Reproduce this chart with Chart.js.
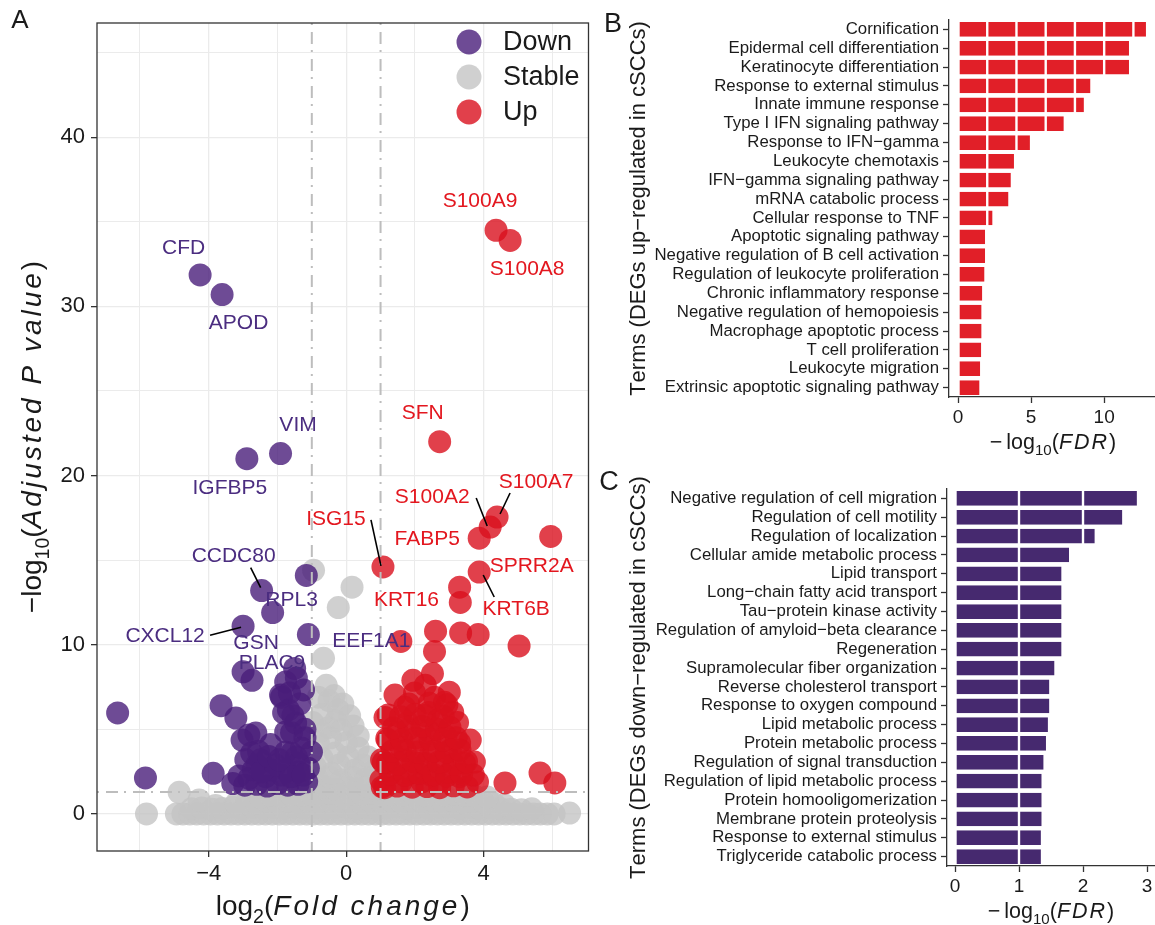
<!DOCTYPE html>
<html>
<head>
<meta charset="utf-8">
<title>Differential expression and GO enrichment in cSCCs</title>
<script src="https://cdn.jsdelivr.net/npm/chart.js@4.4.1/dist/chart.umd.min.js"></script>
<style>
  html, body { margin: 0; padding: 0; background: #fff; overflow: hidden; width: 1155px; height: 925px; }
  canvas { position: absolute; }
  #volcano { left: 0; top: 0; }
  #upTerms { left: 600px; top: 0; }
  #downTerms { left: 600px; top: 460px; }
</style>
</head>
<body>
<canvas id="volcano" width="600" height="925"></canvas>
<canvas id="upTerms" width="560" height="460"></canvas>
<canvas id="downTerms" width="560" height="465"></canvas>
<script>
// ---------------- Volcano data: [log2 fold change, -log10 adjusted P] ----------------
const downLabelled = [
  ['CFD', -4.25, 31.86], ['APOD', -3.61, 30.7], ['VIM', -1.91, 21.3], ['IGFBP5', -2.89, 21.0],
  ['CCDC80', -2.46, 13.2], ['RPL3', -2.14, 11.9], ['CXCL12', -3.0, 11.1], ['GSN', -3.0, 8.4],
  ['PLAC9', -2.74, 7.9], ['EEF1A1', -1.1, 10.6]
];
const upLabelled = [
  ['S100A9', 4.36, 34.5], ['S100A8', 4.77, 33.9], ['SFN', 2.72, 22.0], ['S100A7', 4.39, 17.55],
  ['S100A2', 4.19, 16.96], ['FABP5', 3.87, 16.3], ['SPRR2A', 5.95, 16.4], ['ISG15', 1.07, 14.6],
  ['KRT6B', 3.87, 14.3], ['KRT16', 2.6, 10.8]
];
const downPoints = [
  [-1.16, 14.1], [-6.65, 5.97], [-5.84, 2.13], [-3.87, 2.4], [-3.64, 6.4], [-3.21, 5.67],
  [-2.83, 4.67], [-2.63, 4.79], [-3.03, 4.37], [-2.75, 3.6], [-2.49, 3.2], [-2.92, 3.2],
  [-3.12, 2.25], [-2.83, 2.1], [-2.17, 2.6], [-2.34, 2.2], [-1.88, 2.3], [-1.76, 3.66],
  [-1.76, 4.85], [-1.82, 5.97], [-1.91, 7.03], [-1.47, 5.38], [-1.45, 3.37], [-1.39, 2.48],
  [-1.68, 6.15], [-1.59, 4.8], [-1.59, 3.6], [-1.76, 2.6], [-1.01, 3.66], [-1.1, 2.7],
  [-1.39, 3.0], [-1.88, 6.9], [-1.76, 7.8], [-1.45, 8.04], [-1.24, 7.33], [-1.65, 7.15],
  [-1.5, 8.6], [-2.6, 2.9], [-2.2, 4.1], [-1.2, 4.5],
  [-3.3, 1.8], [-2.95, 1.7], [-2.6, 1.75], [-2.3, 1.65], [-2.0, 1.8], [-1.7, 1.7],
  [-1.4, 1.75], [-1.15, 1.9], [-2.7, 2.6], [-2.45, 2.5], [-2.05, 2.9], [-1.6, 2.2],
  [-1.25, 2.3], [-2.55, 3.7], [-2.25, 3.4], [-1.95, 3.2], [-1.3, 3.9], [-1.2, 5.0],
  [-1.55, 5.8], [-1.35, 6.5]
];
const upPoints = [
  [3.3, 13.4], [3.32, 12.5], [5.03, 9.93], [3.33, 10.7], [3.84, 10.6], [1.59, 10.2],
  [2.57, 9.6], [2.51, 8.3], [1.94, 7.9], [1.42, 7.03], [1.99, 7.15], [2.57, 6.9],
  [2.86, 6.6], [1.13, 5.7], [1.79, 5.4], [2.66, 5.55], [3.24, 5.4], [3.61, 4.37],
  [1.21, 4.37], [1.03, 3.2], [1.59, 3.96], [2.17, 4.37], [2.46, 3.6], [3.03, 3.78],
  [3.73, 3.07], [1.3, 2.6], [1.88, 2.42], [2.46, 2.3], [3.03, 2.48], [3.82, 1.89],
  [4.62, 1.83], [5.64, 2.42], [6.07, 1.83], [1.01, 2.0], [3.44, 3.0], [2.0, 5.9],
  [2.4, 4.9], [1.5, 4.8], [2.9, 4.6], [3.3, 4.2], [1.7, 3.2], [2.1, 3.0], [2.8, 3.1],
  [1.2, 3.0], [3.3, 2.2], [2.2, 1.9], [1.6, 1.9], [2.7, 1.9], [1.05, 1.6], [3.0, 7.2],
  [2.3, 7.6], [1.7, 6.3], [2.4, 6.0], [3.1, 6.0],
  [1.12, 1.55], [1.48, 1.65], [1.92, 1.58], [2.35, 1.62], [2.72, 1.55], [3.12, 1.66], [3.52, 1.6],
  [1.28, 2.35], [1.71, 2.28], [2.12, 2.4], [2.55, 2.32], [2.92, 2.25], [3.36, 2.38], [3.7, 2.3],
  [1.08, 3.05], [1.52, 2.95], [1.94, 3.1], [2.31, 2.98], [2.68, 3.05], [3.14, 2.95], [3.5, 3.1],
  [1.33, 3.7], [1.72, 3.75], [2.08, 3.66], [2.55, 3.72], [2.92, 3.65], [3.31, 3.78],
  [1.18, 4.45], [1.62, 4.38], [2.02, 4.5], [2.44, 4.42], [2.83, 4.35], [3.2, 4.5],
  [1.38, 5.1], [1.83, 5.05], [2.21, 5.18], [2.63, 5.02], [3.02, 5.12],
  [1.22, 5.85], [1.58, 5.75], [2.28, 5.82], [2.82, 5.78], [1.82, 6.5], [2.42, 6.55], [2.93, 6.45]
];
const stablePoints = [
  [-5.81, 0], [-4.94, 0], [-4.75, 0], [-4.55, 0], [-4.35, 0], [-4.15, 0], [-3.95, 0],
  [-3.75, 0], [-3.55, 0], [-3.35, 0], [-3.15, 0], [-2.95, 0], [-2.75, 0], [-2.55, 0],
  [-2.35, 0], [-2.15, 0], [-1.95, 0], [-1.75, 0], [-1.55, 0], [-1.35, 0], [-1.15, 0],
  [-0.95, 0], [-0.75, 0], [-0.55, 0], [-0.35, 0], [-0.15, 0], [0.05, 0], [0.25, 0],
  [0.45, 0], [0.65, 0], [0.85, 0], [1.05, 0], [1.25, 0], [1.45, 0], [1.65, 0], [1.85, 0],
  [2.05, 0], [2.25, 0], [2.45, 0], [2.65, 0], [2.85, 0], [3.05, 0], [3.25, 0], [3.45, 0],
  [3.65, 0], [3.85, 0], [4.05, 0], [4.25, 0], [4.45, 0], [4.65, 0], [4.85, 0], [5.05, 0],
  [5.25, 0], [5.45, 0], [5.65, 0], [5.85, 0], [6.05, 0], [6.5, 0.05],
  [-4.5, 0.3], [-4.2, 0.35], [-3.9, 0.28], [-3.6, 0.32], [-3.3, 0.4], [-3.0, 0.3], [-2.7, 0.36],
  [-2.4, 0.3], [-2.1, 0.38], [-1.8, 0.32], [-1.5, 0.4], [-1.2, 0.34], [-0.9, 0.38], [-0.6, 0.3],
  [-0.3, 0.36], [0.0, 0.4], [0.3, 0.32], [0.6, 0.38], [0.9, 0.3], [1.2, 0.36], [1.5, 0.4],
  [1.8, 0.32], [2.1, 0.38], [2.4, 0.3], [2.7, 0.36], [3.0, 0.4], [3.3, 0.32], [3.6, 0.38],
  [3.9, 0.3], [4.2, 0.35], [4.5, 0.3], [4.8, 0.28], [5.1, 0.25], [5.4, 0.3],
  [-4.28, 0.83], [-3.8, 0.5], [-3.2, 0.62], [-2.9, 0.7], [-2.6, 0.66], [-2.3, 0.75], [-2.0, 0.7],
  [-1.7, 0.78], [-1.4, 0.72], [-1.1, 0.8], [-0.8, 0.74], [-0.5, 0.8], [-0.2, 0.76], [0.1, 0.82],
  [0.4, 0.74], [0.7, 0.8], [1.0, 0.76], [1.3, 0.82], [1.6, 0.74], [1.9, 0.8], [2.2, 0.76],
  [2.5, 0.82], [2.8, 0.74], [3.1, 0.8], [3.4, 0.72], [3.7, 0.76], [4.0, 0.68], [4.3, 0.62], [4.6, 0.55],
  [-4.86, 1.28], [-2.5, 1.0], [-2.2, 1.1], [-1.9, 1.05], [-1.6, 1.15], [-1.3, 1.1], [-1.05, 1.2],
  [-0.75, 1.15], [-0.45, 1.22], [-0.15, 1.12], [0.15, 1.2], [0.45, 1.15], [0.75, 1.22],
  [1.05, 1.12], [1.35, 1.2], [1.65, 1.1], [1.95, 1.18], [2.25, 1.12], [2.55, 1.2], [2.85, 1.1],
  [3.15, 1.16], [3.45, 1.1], [3.75, 1.05], [4.1, 1.0],
  [-0.9, 1.5], [-0.6, 1.6], [-0.3, 1.45], [0.0, 1.6], [0.3, 1.5], [0.6, 1.65], [0.9, 1.45],
  [-0.85, 2.1], [-0.5, 2.2], [-0.15, 2.0], [0.2, 2.15], [0.55, 2.05], [0.85, 2.3],
  [-0.9, 2.8], [-0.43, 2.4], [0.26, 2.6], [0.84, 2.6], [-0.2, 2.9], [0.5, 2.9],
  [-0.32, 3.6], [0.06, 3.37], [0.64, 3.37], [-0.7, 3.3], [0.35, 3.9], [-0.81, 4.2],
  [-0.14, 4.96], [-0.52, 5.1], [-0.97, 5.4], [0.35, 4.6], [-0.45, 4.5], [0.0, 4.2],
  [-0.3, 5.5], [0.2, 5.2], [-0.75, 4.9], [0.1, 5.8], [-0.7, 5.9], [-0.23, 6.15],
  [-0.5, 6.7], [-0.1, 6.5], [-0.81, 6.9], [-0.35, 7.0], [-0.58, 7.6], [-0.66, 9.2],
  [-0.23, 12.2], [0.17, 13.4], [-0.95, 14.4]
];
const volcanoXGrid = [-6, -4, -2, 0, 2, 4, 6];
const volcanoXTicks = [-4, 0, 4];
const volcanoYGrid = [0, 5, 10, 15, 20, 25, 30, 35, 40, 45];
const volcanoYTicks = [0, 10, 20, 30, 40];
const FC_CUTOFF = 1;
const P_CUTOFF = 1.3;

// ---------------- GO term enrichment: -log10(FDR) ----------------
const upTerms = [
  'Cornification', 'Epidermal cell differentiation', 'Keratinocyte differentiation',
  'Response to external stimulus', 'Innate immune response', 'Type I IFN signaling pathway',
  'Response to IFN\u2212gamma', 'Leukocyte chemotaxis', 'IFN\u2212gamma signaling pathway',
  'mRNA catabolic process', 'Cellular response to TNF', 'Apoptotic signaling pathway',
  'Negative regulation of B cell activation', 'Regulation of leukocyte proliferation',
  'Chronic inflammatory response', 'Negative regulation of hemopoiesis',
  'Macrophage apoptotic process', 'T cell proliferation', 'Leukocyte migration',
  'Extrinsic apoptotic signaling pathway'
];
const upFDR = [12.94, 11.78, 11.78, 9.13, 8.69, 7.31, 5.0, 3.91, 3.69, 3.52, 2.43,
  1.93, 1.93, 1.88, 1.73, 1.68, 1.68, 1.66, 1.59, 1.54];
const downTerms = [
  'Negative regulation of cell migration', 'Regulation of cell motility', 'Regulation of localization',
  'Cellular amide metabolic process', 'Lipid transport', 'Long\u2212chain fatty acid transport',
  'Tau\u2212protein kinase activity', 'Regulation of amyloid\u2212beta clearance', 'Regeneration',
  'Supramolecular fiber organization', 'Reverse cholesterol transport', 'Response to oxygen compound',
  'Lipid metabolic process', 'Protein metabolic process', 'Regulation of signal transduction',
  'Regulation of lipid metabolic process', 'Protein homooligomerization', 'Membrane protein proteolysis',
  'Response to external stimulus', 'Triglyceride catabolic process'
];
const downFDR = [2.86, 2.63, 2.20, 1.80, 1.68, 1.68, 1.68, 1.68, 1.68, 1.57, 1.49, 1.49,
  1.47, 1.44, 1.40, 1.37, 1.37, 1.37, 1.36, 1.36];
const upTicks = [0, 5, 10];
const downTicks = [0, 1, 2, 3];

// ---------------- styling ----------------
const FAMILY = '"Liberation Sans", Arial, Helvetica, sans-serif';
const INK = '#1a1a1a';
const DOWN_FILL = 'rgba(74, 30, 122, 0.8)';
const UP_FILL = 'rgba(218, 16, 30, 0.8)';
const STABLE_FILL = 'rgba(196, 196, 196, 0.8)';
const DOWN_TEXT = '#4B2D80';
const UP_TEXT = '#E3171F';
const UP_BAR = '#E11F28';
const DOWN_BAR = '#46296F';

const toXY = pts => pts.map(([x, y]) => ({ x, y }));
const signed = v => (v < 0 ? '\u2212' + Math.abs(v) : String(v));

// text placement around labelled genes: [dx, dy] of the text centre from the point,
// optional leader segment [x1, y1, x2, y2] also relative to the point
const labelLayout = {
  S100A9: { t: [-16, -29] }, S100A8: { t: [17, 29] }, CFD: { t: [-16.5, -27] },
  APOD: { t: [16.5, 29] }, VIM: { t: [17.5, -28] }, IGFBP5: { t: [-17, 30] },
  SFN: { t: [-17, -29] },
  S100A7: { t: [39, -35], l: [13, -24, 3, -3] },
  S100A2: { t: [-58, -30], l: [-14, -29, -3, -1] },
  FABP5: { t: [-52, 1] },
  ISG15: { t: [-47, -48], l: [-12, -47, -2, -1] },
  SPRR2A: { t: [-19, 30] },
  KRT6B: { t: [37, 37], l: [4, 3, 15, 25] },
  KRT16: { t: [-29, -31] },
  CCDC80: { t: [-28, -34], l: [-11, -23, -1, -3] },
  RPL3: { t: [19, -12] },
  CXCL12: { t: [-78, 10], l: [-33, 9, -2, 1] },
  GSN: { t: [13, -29] }, PLAC9: { t: [20, -17] }, EEF1A1: { t: [63, 7] }
};

// draws a run of plain / italic / subscript pieces centred on (cx, cy)
function drawRich(ctx, parts, cx, cy, size, rotate) {
  ctx.save();
  ctx.translate(cx, cy);
  if (rotate) ctx.rotate(-Math.PI / 2);
  ctx.fillStyle = INK;
  ctx.textAlign = 'left';
  ctx.textBaseline = 'alphabetic';
  const runs = parts.map(([text, kind, gap]) => {
    const sz = kind === 'sub' ? size * 0.7 : size;
    const font = (kind === 'it' ? 'italic ' : '') + sz + 'px ' + FAMILY;
    ctx.font = font;
    const sp = gap || 0;
    let w = 0;
    for (const ch of text) w += ctx.measureText(ch).width + sp;
    return { text, font, sp, w, dy: kind === 'sub' ? size * 0.28 : 0 };
  });
  const total = runs.reduce((a, r) => a + r.w, 0);
  let x = -total / 2;
  const base = size * 0.36;
  for (const r of runs) {
    ctx.font = r.font;
    for (const ch of r.text) {
      ctx.fillText(ch, x, base + r.dy);
      x += ctx.measureText(ch).width + r.sp;
    }
  }
  ctx.restore();
}

// ---------------- Panel A: volcano plot ----------------
const volcanoDecor = {
  id: 'volcanoDecor',
  afterDatasetsDraw(chart) {
    const { ctx, chartArea: a, scales: { x, y } } = chart;
    ctx.save();
    // significance thresholds
    ctx.strokeStyle = '#BDBDBD';
    ctx.lineWidth = 2;
    ctx.setLineDash([2, 7, 12, 6]);
    for (const v of [-FC_CUTOFF, FC_CUTOFF]) {
      const px = x.getPixelForValue(v);
      ctx.beginPath(); ctx.moveTo(px, a.top); ctx.lineTo(px, a.bottom); ctx.stroke();
    }
    const py = y.getPixelForValue(P_CUTOFF);
    ctx.beginPath(); ctx.moveTo(a.left, py); ctx.lineTo(a.right, py); ctx.stroke();
    ctx.setLineDash([]);
    // gene labels
    ctx.font = '21px ' + FAMILY;
    ctx.textAlign = 'center';
    ctx.textBaseline = 'middle';
    const put = (list, color) => {
      for (const [name, fc, p] of list) {
        const lay = labelLayout[name];
        const px0 = x.getPixelForValue(fc), py0 = y.getPixelForValue(p);
        if (lay.l) {
          ctx.strokeStyle = '#000'; ctx.lineWidth = 1.6;
          ctx.beginPath();
          ctx.moveTo(px0 + lay.l[0], py0 + lay.l[1]);
          ctx.lineTo(px0 + lay.l[2], py0 + lay.l[3]);
          ctx.stroke();
        }
        ctx.fillStyle = color;
        ctx.fillText(name, px0 + lay.t[0], py0 + lay.t[1]);
      }
    };
    put(downLabelled, DOWN_TEXT);
    put(upLabelled, UP_TEXT);
    ctx.restore();
  },
  afterDraw(chart) {
    const { ctx, chartArea: a } = chart;
    ctx.save();
    ctx.strokeStyle = '#333';
    ctx.lineWidth = 1.3;
    ctx.strokeRect(a.left, a.top, a.right - a.left, a.bottom - a.top);
    // legend
    const legend = [['Down', DOWN_FILL], ['Stable', STABLE_FILL], ['Up', UP_FILL]];
    ctx.font = '27px ' + FAMILY;
    ctx.textAlign = 'left';
    ctx.textBaseline = 'middle';
    legend.forEach(([name, col], i) => {
      const cy = 42 + i * 35;
      ctx.fillStyle = col;
      ctx.beginPath(); ctx.arc(469, cy, 12.5, 0, Math.PI * 2); ctx.fill();
      ctx.fillStyle = INK;
      ctx.fillText(name, 503, cy + 1);
    });
    // panel tag
    ctx.font = '26px ' + FAMILY;
    ctx.textAlign = 'center';
    ctx.fillText('A', 20, 21);
    ctx.restore();
    drawRich(ctx, [['log', 'n'], ['2', 'sub'], ['(', 'n'], ['Fold change', 'it', 3], [')', 'n']],
      (a.left + a.right) / 2, 905, 28, false);
    drawRich(ctx, [['\u2212log', 'n'], ['10', 'sub'], ['(', 'n'], ['Adjusted P value', 'it', 3], [')', 'n']],
      31, (a.top + a.bottom) / 2, 28, true);
  }
};

new Chart(document.getElementById('volcano'), {
  type: 'scatter',
  data: {
    datasets: [
      { label: 'Down', data: toXY(downPoints.concat(downLabelled.map(g => [g[1], g[2]]))), backgroundColor: DOWN_FILL, order: 0 },
      { label: 'Up', data: toXY(upPoints.concat(upLabelled.map(g => [g[1], g[2]]))), backgroundColor: UP_FILL, order: 1 },
      { label: 'Stable', data: toXY(stablePoints), backgroundColor: STABLE_FILL, order: 2 }
    ]
  },
  options: {
    responsive: false,
    animation: false,
    layout: { padding: { top: 23, right: 8, left: 0, bottom: 0 } },
    elements: { point: { radius: 11.5, hoverRadius: 11.5, borderWidth: 0 } },
    plugins: { legend: { display: false }, tooltip: { enabled: false } },
    scales: {
      x: {
        type: 'linear', min: -7.25, max: 7.05,
        afterBuildTicks: s => { s.ticks = volcanoXGrid.map(v => ({ value: v })); },
        afterFit: s => { s.height = 74; },
        border: { display: false },
        grid: {
          color: '#EBEBEB',
          lineWidth: c => (volcanoXTicks.includes(c.tick && c.tick.value) ? 1.3 : 1),
          tickLength: 6, tickWidth: 1.3,
          tickColor: c => (volcanoXTicks.includes(c.tick && c.tick.value) ? '#333' : 'rgba(0,0,0,0)')
        },
        ticks: {
          autoSkip: false, maxRotation: 0, padding: 4, color: INK,
          font: { family: FAMILY, size: 22 },
          callback: v => (volcanoXTicks.includes(v) ? signed(v) : '')
        }
      },
      y: {
        type: 'linear', min: -2.19, max: 46.75,
        afterBuildTicks: s => { s.ticks = volcanoYGrid.map(v => ({ value: v })); },
        afterFit: s => { s.width = 97; },
        border: { display: false },
        grid: {
          color: '#EBEBEB',
          lineWidth: c => (volcanoYTicks.includes(c.tick && c.tick.value) ? 1.3 : 1),
          tickLength: 6, tickWidth: 1.3,
          tickColor: c => (volcanoYTicks.includes(c.tick && c.tick.value) ? '#333' : 'rgba(0,0,0,0)')
        },
        ticks: {
          autoSkip: false, padding: 6, color: INK,
          font: { family: FAMILY, size: 22 },
          callback: v => (volcanoYTicks.includes(v) ? signed(v) : '')
        }
      }
    }
  },
  plugins: [volcanoDecor]
});

// ---------------- Panels B and C: enrichment bars ----------------
// each bar is split into equal-width stacked pieces separated by thin white rules
function pieces(values, step) {
  const n = Math.ceil(Math.max(...values) / step);
  const out = [];
  for (let k = 0; k < n; k++) out.push(values.map(v => Math.max(0, Math.min(step, v - k * step))));
  return out;
}

function termChart(id, terms, values, step, color, ticks, range, geom, tag, yTitle) {
  const decor = {
    id: 'decor' + tag,
    afterDraw(chart) {
      const { ctx, chartArea: a } = chart;
      ctx.save();
      ctx.fillStyle = INK;
      ctx.font = '27px ' + FAMILY;
      ctx.textAlign = 'center';
      ctx.textBaseline = 'middle';
      ctx.fillText(tag, geom.tagX, geom.tagY);
      ctx.restore();
      drawRich(ctx, [['\u2212', 'n', 4], ['log', 'n'], ['10', 'sub'], ['(', 'n'], ['FDR', 'it', 2], [')', 'n']],
        geom.xTitleX, geom.xTitleY, 21.5, false);
      drawRich(ctx, [[yTitle, 'n']], 37, (a.top + a.bottom) / 2, 22, true);
    }
  };
  new Chart(document.getElementById(id), {
    type: 'bar',
    data: {
      labels: terms,
      datasets: pieces(values, step).map(d => ({
        data: d,
        backgroundColor: color,
        borderColor: '#ffffff',
        borderWidth: { left: 1.2, right: 1.2, top: 0, bottom: 0 },
        borderSkipped: false,
        barPercentage: 0.78,
        categoryPercentage: 1
      }))
    },
    options: {
      indexAxis: 'y',
      responsive: false,
      animation: false,
      layout: { padding: { top: geom.top, left: 0, right: 0, bottom: 0 } },
      plugins: { legend: { display: false }, tooltip: { enabled: false } },
      scales: {
        x: {
          type: 'linear', stacked: true, min: range[0], max: range[1],
          afterBuildTicks: s => { s.ticks = ticks.map(v => ({ value: v })); },
          afterFit: s => { s.height = geom.xHeight; },
          border: { display: true, color: '#333', width: 1.3 },
          grid: { drawOnChartArea: false, tickLength: 6, tickColor: '#333', tickWidth: 1.3 },
          ticks: { autoSkip: false, maxRotation: 0, padding: 3, color: INK, font: { family: FAMILY, size: 19 } }
        },
        y: {
          stacked: true,
          afterFit: s => { s.width = geom.left; },
          border: { display: true, color: '#333', width: 1.3 },
          grid: { drawOnChartArea: false, offset: false, tickLength: 6, tickColor: '#333', tickWidth: 1.3 },
          ticks: { autoSkip: false, padding: 4, color: INK, font: { family: FAMILY, size: 16.8 } }
        }
      }
    },
    plugins: [decor]
  });
}

termChart('upTerms', upTerms, upFDR, 2, UP_BAR, upTicks, [-0.616, 13.82],
  { top: 20, xHeight: 63, left: 349, tagX: 13, tagY: 25, xTitleX: 453, xTitleY: 441 },
  'B', 'Terms (DEGs up\u2212regulated in cSCCs)');
termChart('downTerms', downTerms, downFDR, 1, DOWN_BAR, downTicks, [-0.125, 3.203],
  { top: 29, xHeight: 59, left: 347, tagX: 9, tagY: 23, xTitleX: 451, xTitleY: 450 },
  'C', 'Terms (DEGs down\u2212regulated in cSCCs)');
</script>
</body>
</html>
